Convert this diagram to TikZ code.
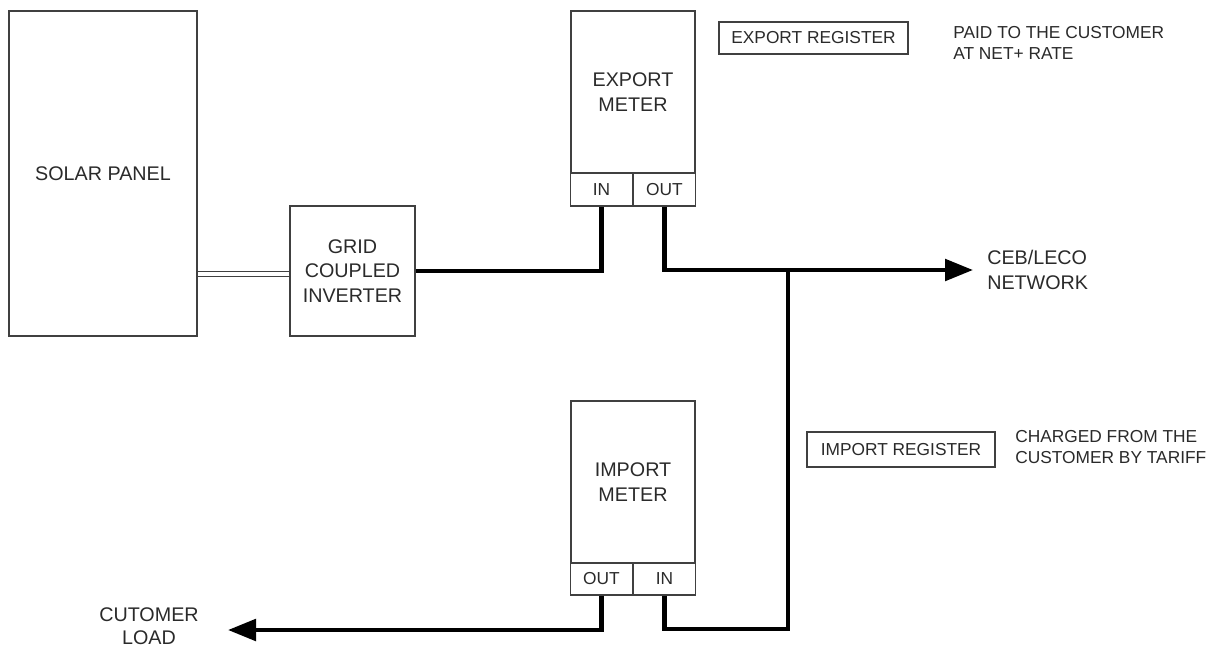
\documentclass[tikz,border=0pt]{standalone}
\usepackage{fontspec}
\setmainfont{Liberation Sans}
\usetikzlibrary{arrows.meta}
\definecolor{boxc}{HTML}{404040}
\definecolor{txtc}{HTML}{2A2A2A}
\begin{document}
\begin{tikzpicture}[x=0.75pt,y=-0.75pt,
  every node/.style={font=\fontsize{13}{18.4}\selectfont, text=txtc},
  big/.style={font=\fontsize{14.8}{18.6}\selectfont},
  box/.style={draw=boxc, line width=1.1pt, inner sep=0pt, align=center},
  note/.style={inner sep=0pt, align=left, anchor=west, font=\fontsize{13}{15.75}\selectfont},
  wire/.style={line width=3.3pt, black},
  feed/.style={wire, -{Triangle[length=21pt,width=16pt]}},
  dbl/.style={draw=boxc, double=white, double distance=3.3pt, line width=0.9pt}]
\useasboundingbox (0,0) rectangle (1218,647);
% boxes
\node[box, big, minimum width=141pt, minimum height=243.75pt] (solar) at (103,173.5) {SOLAR PANEL};
\node[box, big, minimum width=93.75pt, minimum height=97.5pt] (inv) at (352.5,271) {GRID\\COUPLED\\INVERTER};
\node[box, big, minimum width=93pt, minimum height=121.5pt] (exm) at (633,92) {EXPORT\\METER};
\node[box, minimum width=46.5pt, minimum height=24.75pt] (exin) at (601.5,189.5) {IN};
\node[box, minimum width=46.5pt, minimum height=24.75pt] (exout) at (664.5,189.5) {OUT};
\node[box, big, minimum width=93pt, minimum height=121.5pt] (imm) at (633,482) {IMPORT\\METER};
\node[box, minimum width=46.5pt, minimum height=24pt] (imout) at (601.5,579) {OUT};
\node[box, minimum width=46.5pt, minimum height=24pt] (imin) at (664.5,579) {IN};
\node[box, minimum width=141.75pt, minimum height=24pt] (exreg) at (813.5,38) {EXPORT REGISTER};
\node[box, minimum width=141pt, minimum height=26.25pt] (imreg) at (901,449.5) {IMPORT REGISTER};
% notes
\node[note] (paid) at (953,42.5) {PAID TO THE CUSTOMER\\AT NET+ RATE};
\node[note] (chg) at (1015,447.5) {CHARGED FROM THE\\CUSTOMER BY TARIFF};
\node[note, font=\fontsize{14.8}{18.75}\selectfont] (ceb) at (987,269.5) {CEB/LECO\\NETWORK};
\node[inner sep=0pt, align=center, font=\fontsize{14.8}{17.25}\selectfont] (loadtxt) at (149,626.5) {CUTOMER\\LOAD};
% coordinates
\coordinate (cebtip) at (973,270);
\coordinate (br) at (788,270);
\coordinate (loadtip) at (228,630);
% connectors
\draw[dbl] ([yshift=-2.25pt]inv.west) -- ([yshift=-2.25pt]inv.west -| solar.east);
\draw[wire] (inv.east) -| (exin.south);
\draw[feed] (exout.south) |- (cebtip);
\draw[wire] (imin.south) -- ++(0,33) -| (br);
\draw[feed] (imout.south) |- (loadtip);
\end{tikzpicture}
\end{document}
